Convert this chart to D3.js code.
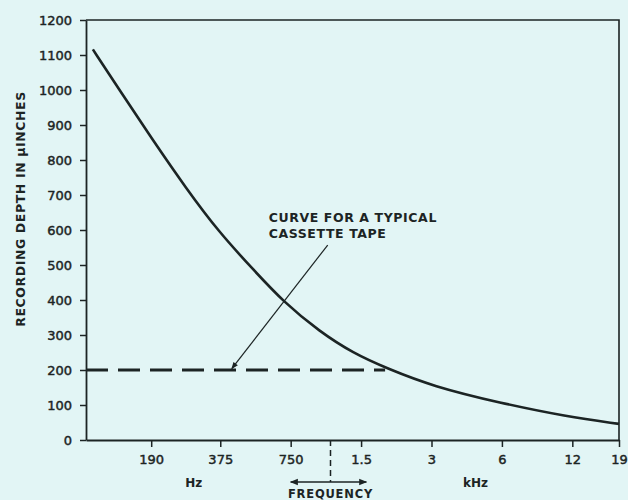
<!DOCTYPE html>
<html>
<head>
<meta charset="utf-8">
<script src="https://cdn.jsdelivr.net/npm/d3@7"></script>
<style>
  html, body { margin: 0; padding: 0; background: #e2f5f5; }
  svg { display: block; }
  text { font-family: "DejaVu Sans", sans-serif; fill: #1c2424; }
</style>
</head>
<body>
<svg id="chart" width="628" height="500"></svg>
<script>
// ---- data ----
const curveFreqHz   = [107, 139, 193, 268, 371, 519, 697, 1000, 1388, 1928, 3049, 5877, 11330, 19000];
const curveDepthUin = [1116, 1000, 857, 719, 593, 487, 395, 309, 248, 205, 153, 106, 67, 46];
const cassetteDepth = 200;
const cassetteFreqRange = [100, 1900];
const xTickValues = [190, 375, 750, 1500, 3000, 6000, 12000, 19000];
const xTickLabels = ["190", "375", "750", "1.5", "3", "6", "12", "19"];
const yTickValues = [0, 100, 200, 300, 400, 500, 600, 700, 800, 900, 1000, 1100, 1200];
const unitLabels = ["Hz", "kHz"];
const unitFreqs = [289, 4630];
const dividerFreq = 1110;
const freqArrowRange = [750, 1580];
const yTitle = "RECORDING DEPTH IN \u00B5INCHES";
const xTitle = "FREQUENCY";
const noteLines = ["CURVE FOR A TYPICAL", "CASSETTE TAPE"];
const noteAnchor = { f: 604, v: 623 };
const noteArrow = { from: { f: 1080, v: 557 }, to: { f: 420, v: 204 } };

// ---- layout ----
const ink = "#1c2424";
const svg = d3.select("#chart");
const x = d3.scaleLog().base(2).domain([100, 19000]).range([86, 619]);
const y = d3.scaleLinear().domain([0, 1200]).range([440, 20]);

// frame (top and right)
svg.append("path")
  .attr("d", `M${x(100)},${y(1200)}H${x(19000)}V${y(0)}`)
  .attr("fill", "none").attr("stroke", ink).attr("stroke-width", 1.6);

// y axis
const yAxis = svg.append("g").attr("transform", `translate(${x(100)},0)`)
  .call(d3.axisLeft(y).tickValues(yTickValues).tickFormat(d3.format("d"))
    .tickSize(6).tickPadding(8).tickSizeOuter(0));
yAxis.select(".domain").attr("stroke", ink).attr("stroke-width", 1.8);
yAxis.selectAll(".tick line").attr("stroke", ink).attr("stroke-width", 1.5);
yAxis.selectAll(".tick text").attr("font-size", 13).attr("font-family", "DejaVu Sans")
  .attr("fill", ink).attr("stroke", ink).attr("stroke-width", 0.45).attr("dy", "0.36em");

// x axis
const xAxis = svg.append("g").attr("transform", `translate(0,${y(0)})`)
  .call(d3.axisBottom(x).tickValues(xTickValues).tickFormat((d, i) => xTickLabels[i])
    .tickSize(7).tickPadding(8).tickSizeOuter(0));
xAxis.select(".domain").attr("stroke", ink).attr("stroke-width", 1.8);
xAxis.selectAll(".tick line").attr("stroke", ink).attr("stroke-width", 1.5);
xAxis.selectAll(".tick text").attr("font-size", 13).attr("font-family", "DejaVu Sans")
  .attr("fill", ink).attr("stroke", ink).attr("stroke-width", 0.45).attr("dy", "0.71em");

// unit labels
svg.selectAll("text.unit").data(unitLabels).join("text").attr("class", "unit")
  .attr("x", (d, i) => x(unitFreqs[i])).attr("y", 487)
  .attr("text-anchor", "middle").attr("font-size", 12).attr("font-weight", "bold").text(d => d);

// divider (Hz | kHz)
svg.append("line")
  .attr("x1", x(dividerFreq)).attr("x2", x(dividerFreq))
  .attr("y1", y(0)).attr("y2", 482)
  .attr("stroke", ink).attr("stroke-width", 1.5).attr("stroke-dasharray", "6,4");

// arrow markers
const defs = svg.append("defs");
defs.append("marker").attr("id", "ah").attr("viewBox", "0 0 10 10")
  .attr("refX", 9).attr("refY", 5).attr("markerWidth", 12).attr("markerHeight", 8)
  .attr("markerUnits", "userSpaceOnUse").attr("orient", "auto-start-reverse")
  .append("path").attr("d", "M0,1L10,5L0,9Z").attr("fill", ink);
defs.append("marker").attr("id", "ah2").attr("viewBox", "0 0 10 10")
  .attr("refX", 9).attr("refY", 5).attr("markerWidth", 12).attr("markerHeight", 7)
  .attr("markerUnits", "userSpaceOnUse").attr("orient", "auto")
  .append("path").attr("d", "M0,1L10,5L0,9Z").attr("fill", ink);

// frequency double arrow
svg.append("line")
  .attr("x1", x(freqArrowRange[0])).attr("x2", x(freqArrowRange[1]))
  .attr("y1", 482).attr("y2", 482)
  .attr("stroke", ink).attr("stroke-width", 1.5)
  .attr("marker-start", "url(#ah)").attr("marker-end", "url(#ah)");
svg.append("text").attr("x", x(dividerFreq)).attr("y", 497.5)
  .attr("text-anchor", "middle").attr("font-size", 11.5).attr("font-weight", "bold")
  .attr("letter-spacing", 0.8).text(xTitle);

// y title
svg.append("text")
  .attr("transform", `translate(25,${209}) rotate(-90)`)
  .attr("text-anchor", "middle").attr("font-size", 12.5).attr("font-weight", "bold")
  .attr("letter-spacing", 0.6).text(yTitle);

// cassette dashed line
svg.append("line")
  .attr("x1", x(cassetteFreqRange[0])).attr("x2", x(cassetteFreqRange[1]))
  .attr("y1", y(cassetteDepth)).attr("y2", y(cassetteDepth))
  .attr("stroke", ink).attr("stroke-width", 3).attr("stroke-dasharray", "22,10");

// curve
const pts = curveFreqHz.map((f, i) => [f, curveDepthUin[i]]);
svg.append("path").datum(pts)
  .attr("d", d3.line().x(d => x(d[0])).y(d => y(d[1])).curve(d3.curveBasis))
  .attr("fill", "none").attr("stroke", ink).attr("stroke-width", 2.6);

// annotation
const note = svg.append("text").attr("x", x(noteAnchor.f)).attr("y", y(noteAnchor.v))
  .attr("font-size", 12.5).attr("font-weight", "bold").attr("letter-spacing", 0.6);
note.selectAll("tspan").data(noteLines).join("tspan")
  .attr("x", x(noteAnchor.f)).attr("dy", (d, i) => i ? 16 : 0).text(d => d);
svg.append("line")
  .attr("x1", x(noteArrow.from.f)).attr("y1", y(noteArrow.from.v))
  .attr("x2", x(noteArrow.to.f)).attr("y2", y(noteArrow.to.v))
  .attr("stroke", ink).attr("stroke-width", 1.2).attr("marker-end", "url(#ah2)");
</script>
</body>
</html>
